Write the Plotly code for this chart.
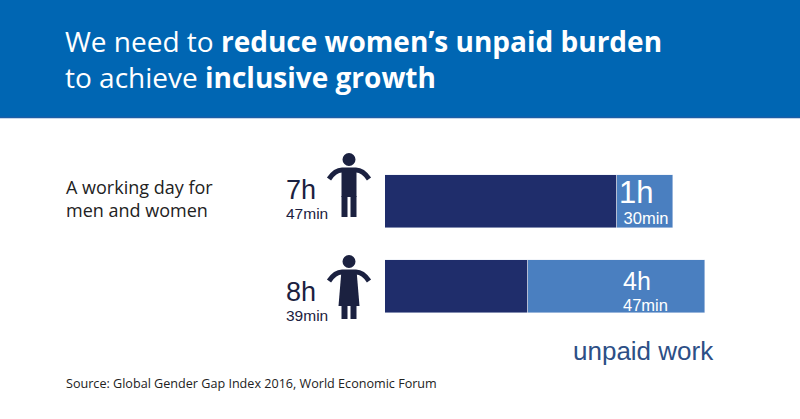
import plotly.graph_objects as go

# data (minutes per day)
groups = ["Men", "Women"]
paid_min = [377, 232]
unpaid_min = [90, 287]
total_min = [467, 519]

W, H = 800, 419
# plot area in pixels
L, R, T, B = 385, 95, 159, 90
PW, PH = W - L - R, H - T - B

NAVY = "#1f2d6b"
LIGHT = "#4a7fc0"
HEADER = "#0066b3"
DARK = "#1b2140"


def px(x):
    return (x - L) / PW


def py(y):
    return (H - B - y) / PH


def hm(m):
    return m // 60, m % 60


fig = go.Figure()
fig.add_trace(go.Bar(y=groups, x=paid_min, orientation="h", marker_color=NAVY,
                     width=0.63, name="paid work", hoverinfo="skip"))
fig.add_trace(go.Bar(y=groups, x=unpaid_min, orientation="h", marker_color=LIGHT,
                     width=0.63, name="unpaid work", hoverinfo="skip"))

shapes = []
# header band
shapes.append(dict(type="rect", xref="paper", yref="paper", x0=px(-2), x1=px(W + 2),
                   y0=py(118), y1=py(-2), fillcolor=HEADER, line_width=0, layer="below"))
shapes.append(dict(type="line", xref="paper", yref="paper", x0=px(-2), x1=px(W + 2),
                   y0=py(117.5), y1=py(117.5), line=dict(color="#1d5ea6", width=1.5)))


def figure_icon(cx, top, woman=False):
    # head
    shapes.append(dict(type="circle", xref="paper", yref="paper",
                       x0=px(cx - 6.5), x1=px(cx + 6.5), y0=py(top + 13), y1=py(top),
                       fillcolor=DARK, line_width=0))
    sh = top + 16  # shoulder line
    # arms
    arm = "M {},{} Q {},{} {},{} L {},{} Q {},{} {},{}".format(
        px(cx - 20), py(sh + 10), px(cx - 14), py(sh + 1), px(cx - 7), py(sh + 1),
        px(cx + 7), py(sh + 1), px(cx + 14), py(sh + 1), px(cx + 20), py(sh + 10))
    shapes.append(dict(type="path", xref="paper", yref="paper", path=arm,
                       line=dict(color=DARK, width=5)))
    if woman:
        body = "M {},{} L {},{} L {},{} L {},{} Z".format(
            px(cx - 7.5), py(sh - 1), px(cx + 7.5), py(sh - 1),
            px(cx + 10.5), py(sh + 35), px(cx - 10.5), py(sh + 35))
        shapes.append(dict(type="path", xref="paper", yref="paper", path=body,
                           fillcolor=DARK, line_width=0))
        leg_top = sh + 34
    else:
        shapes.append(dict(type="rect", xref="paper", yref="paper",
                           x0=px(cx - 7.5), x1=px(cx + 7.5), y0=py(sh + 28), y1=py(sh - 1),
                           fillcolor=DARK, line_width=0))
        leg_top = sh + 27
    for x0, x1 in [(cx - 7.5, cx - 1.5), (cx + 1.5, cx + 7.5)]:
        shapes.append(dict(type="path", xref="paper", yref="paper",
                           path="M {},{} L {},{} L {},{} L {},{} Z".format(
                               px(x0), py(leg_top), px(x1), py(leg_top),
                               px(x1), py(top + 64), px(x0), py(top + 64)),
                           fillcolor=DARK, line_width=0))


figure_icon(349, 153)
figure_icon(349, 255, woman=True)

ann = []


def text(x, y, s, size, color, family="Liberation Sans", xanchor="left", yanchor="middle"):
    ann.append(dict(xref="paper", yref="paper", x=px(x), y=py(y), text=s, showarrow=False,
                    xanchor=xanchor, yanchor=yanchor, align="left",
                    font=dict(size=size, color=color, family=family)))


def two_line(h, m, big, indent=""):
    return f"<span style='font-size:{big}px'>{h}h</span><br>{indent}{m}min"


# header title
text(63, 59, "We need to <b>reduce women’s unpaid burden</b><br>to achieve <b>inclusive growth</b>",
     28, "white", "Open Sans")

# left caption
text(64, 198, "A working day for<br>men and women", 18, "#222222", "Open Sans")

# totals next to icons
for i, yc in enumerate([198, 300]):
    h, m = hm(total_min[i])
    text(284, yc, two_line(h, m, 27), 15.5, DARK)

# unpaid labels inside bars
for i, (xl, yc, big, ind) in enumerate([(617, 201, 31, "&nbsp;"), (621, 290, 25, "")]):
    h, m = hm(unpaid_min[i])
    text(xl, yc, two_line(h, m, big, ind), 16.5, "white")

text(571, 351, "unpaid work", 26, "#2d4f86")
text(64, 383, "Source: Global Gender Gap Index 2016, World Economic Forum", 12.6, "#222222", "Open Sans")

fig.update_layout(
    width=W, height=H,
    margin=dict(l=L, r=R, t=T, b=B),
    barmode="stack", bargap=0,
    showlegend=False,
    plot_bgcolor="white", paper_bgcolor="white",
    xaxis=dict(range=[0, max(total_min)], visible=False, fixedrange=True),
    yaxis=dict(range=[1.5, -0.5], visible=False, fixedrange=True),
    shapes=shapes, annotations=ann,
)

fig.write_html("out.html", config={"displayModeBar": False},
               post_script="document.body.style.margin='0';")
